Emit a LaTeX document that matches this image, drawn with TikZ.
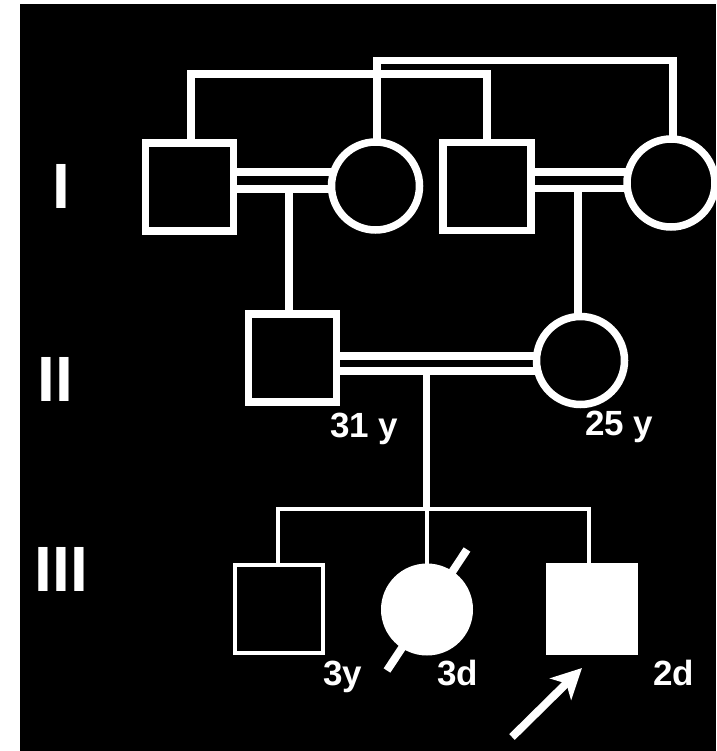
\documentclass[tikz,border=0pt]{standalone}
\usepackage{fontspec}
\setmainfont{Liberation Sans}
\usetikzlibrary{arrows.meta}
\begin{document}
\begin{tikzpicture}[x=1pt,y=-1pt]
	\tikzstyle{every node}+=[inner sep=0pt, text=white]
	\tikzstyle{male}=[draw=white, rectangle, line width=7.5pt, minimum size=88pt]
	\tikzstyle{female}=[draw=white, circle, line width=7.5pt, minimum size=88pt]
	\tikzstyle{kid}=[line width=4pt]
	\tikzstyle{thickline}=[white, line width=7.5pt]
	\tikzstyle{thinline}=[white, line width=4pt]
	\tikzstyle{age}=[font=\fontsize{35}{40}\selectfont\bfseries, anchor=base west]
	\tikzstyle{gen}=[font=\fontsize{64}{70}\selectfont\bfseries, anchor=base]
	\useasboundingbox (0,0) rectangle (716,751);
	\fill [white] (0,0) rectangle (716,751);
	\fill [black] (20,4) rectangle (716,751);
	\node [male] (i1) at (189.5,187) {};
	\node [female] (i2) at (375.5,186) {};
	\node [male] (i3) at (487,186.5) {};
	\node [female] (i4) at (671,183) {};
	\node [male] (ii1) at (292.5,358) {};
	\node [female] (ii2) at (580.5,360.5) {};
	\node [male,kid] (iii1) at (279,609) {};
	\node [female,kid,fill=white] (iii2) at (427,609.5) {};
	\node [male,kid,fill=white] (iii3) at (592,609) {};
	\draw [thickline] ([yshift=-3pt,xshift=1.5pt]i1.north) -- ++(0,-68) -| ([yshift=-3pt]i3.north);
	\draw [thickline] ([yshift=-3pt,xshift=1.5pt]i2.north) -- ++(0,-80.5) -| ([yshift=-3pt,xshift=2pt]i4.north);
	\draw [thickline] ([xshift=-3pt,yshift=15pt]i1.east) -- ([yshift=15pt]i1.east -| i2.160);
	\draw [thickline] ([xshift=-3pt,yshift=-2pt]i1.east) coordinate (c1) -- ([yshift=-2pt]i1.east -| i2.200);
	\draw [thickline] ([xshift=-3pt,yshift=14.5pt]i3.east) -- ([yshift=14.5pt]i3.east -| i4.160);
	\draw [thickline] ([xshift=-3pt,yshift=-2pt]i3.east) coordinate (c2) -- ([yshift=-2pt]i3.east -| i4.200);
	\draw [thickline] ([xshift=-3.5pt]ii1.north) -- ([xshift=-3.5pt]ii1.north |- c1);
	\draw [thickline] ([xshift=-2.5pt]ii2.north) -- ([xshift=-2.5pt]ii2.north |- c2);
	\draw [thickline] ([xshift=-3pt,yshift=2pt]ii1.east) -- ([yshift=2pt]ii1.east -| ii2.160);
	\draw [thickline] ([xshift=-3pt,yshift=-13pt]ii1.east) coordinate (c3) -- ([yshift=-13pt]ii1.east -| ii2.200);
	\coordinate (sib) at (426.5,509);
	\draw [thickline] (sib |- c3) -- ([yshift=2pt]sib);
	\draw [thinline] ([xshift=-1pt]iii1.north) |- (sib) -| ([xshift=-3pt]iii3.north);
	\draw [thinline] (iii2.north) -- (iii2.north |- sib);
	\draw [white, line width=8pt] (iii2.center) ++(-40,61) -- ++(80,-121);
	\coordinate (tail) at (512,737);
	\draw [white, line width=8pt, -{Stealth[length=30pt,width=30pt,inset=8pt]}] (tail) -- ([xshift=-10pt,yshift=-13pt]iii3.south);
	\node [age] (a31) at (330,437) {31 y};
	\node [age] (a25) at (585,435) {25 y};
	\node [age] (a3y) at (323,685) {3y};
	\node [age] (a3d) at (437,685) {3d};
	\node [age] (a2d) at (653,685) {2d};
	\node [gen] (g1) at (61,208) {I};
	\node [gen] (g2) at (55,401) {II};
	\node [gen] (g3) at (61.5,591) {III};
\end{tikzpicture}
\end{document}
